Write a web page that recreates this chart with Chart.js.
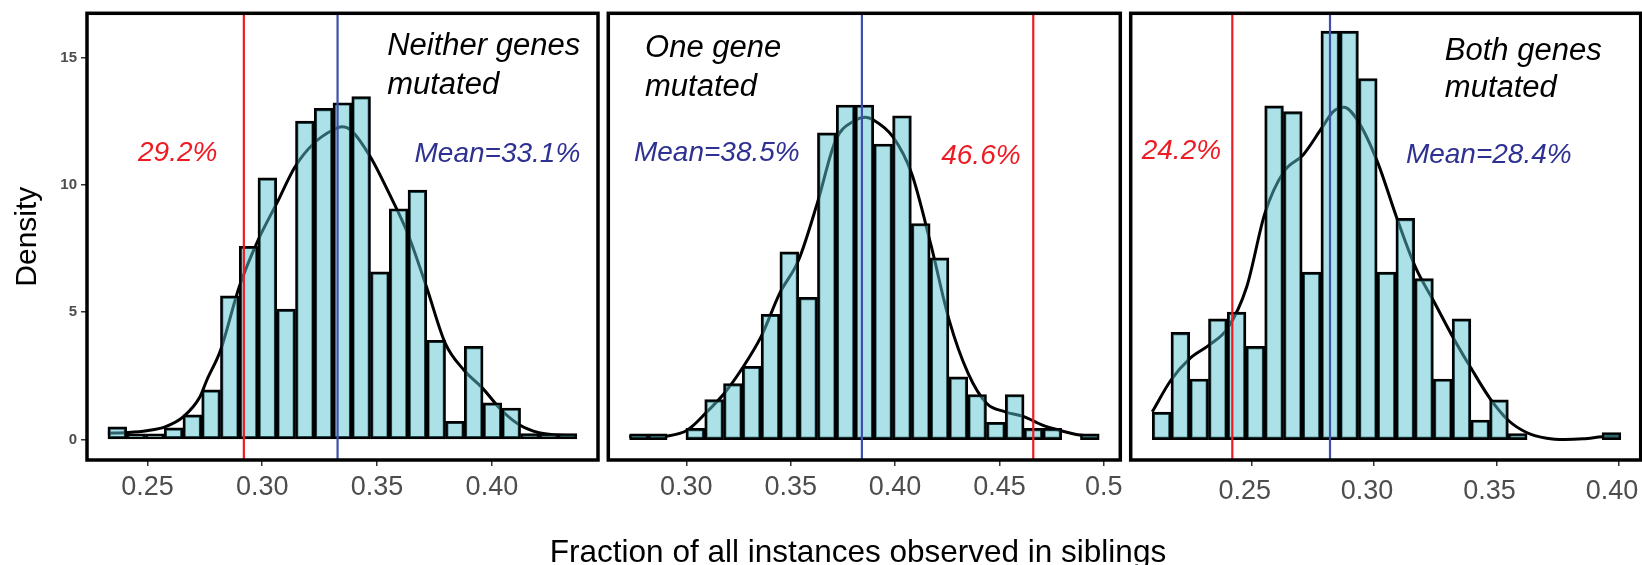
<!DOCTYPE html>
<html>
<head>
<meta charset="utf-8">
<script src="https://cdn.jsdelivr.net/npm/chart.js@4.4.0/dist/chart.umd.min.js"></script>
<style>
  html, body { margin: 0; padding: 0; background: #fff; }
  body { width: 1642px; height: 565px; position: relative; overflow: hidden; font-family: "Liberation Sans", Arial, sans-serif; }
  canvas { position: absolute; top: 0; }
  #xTitle { position: absolute; left: 458px; width: 800px; top: 536px; text-align: center; font-size: 31.5px; line-height: 31.5px; color: #000; }
</style>
</head>
<body>
<canvas id="panel0" width="602" height="565" style="left:0px"></canvas>
<canvas id="panel1" width="520" height="565" style="left:604px"></canvas>
<canvas id="panel2" width="516" height="565" style="left:1126px"></canvas>
<div id="xTitle">Fraction of all instances observed in siblings</div>
<script>
// Histogram bins: left edge of the first bin and bin width, per panel
const binStart = [0.2328, 0.2728, 0.2094];
const binWidth = [0.008168, 0.009, 0.007655];

// Bar heights (density)
const neitherHeights = [0.5, 0.23, 0.23, 0.46, 0.97, 1.95, 5.64, 7.59, 10.27, 5.12, 12.5, 13.0, 13.22, 13.46, 6.58, 9.06, 9.79, 3.9, 0.72, 3.66, 1.44, 1.24, 0.24, 0.24, 0.24];
const oneHeights = [0.23, 0.23, 0, 0.44, 1.57, 2.2, 2.88, 4.92, 7.37, 5.58, 12.04, 13.13, 13.13, 11.6, 12.71, 8.48, 7.13, 2.46, 1.77, 0.68, 1.77, 0.44, 0.44, 0, 0.23];
const bothHeights = [1.08, 4.21, 2.38, 4.74, 5.0, 3.66, 13.1, 12.87, 6.57, 16.03, 16.03, 14.17, 6.57, 8.68, 6.32, 2.38, 4.74, 0.77, 1.56, 0.24, 0, 0, 0, 0, 0.28];

// Density curves
const neitherDensX = [0.2328, 0.2413, 0.2497, 0.2577, 0.2657, 0.2729, 0.2759, 0.2818, 0.2900, 0.2982, 0.3063, 0.3143, 0.3225, 0.3307, 0.3347, 0.3388, 0.3470, 0.3552, 0.3633, 0.3715, 0.3797, 0.3878, 0.3960, 0.4041, 0.4121, 0.4205, 0.4286, 0.4370];
const neitherDensY = [0.25, 0.28, 0.35, 0.5, 0.9, 1.68, 2.34, 3.5, 6.0, 7.83, 9.27, 10.71, 11.63, 12.15, 12.28, 12.13, 11.11, 9.67, 8.1, 6.0, 3.78, 2.73, 2.01, 1.16, 0.57, 0.27, 0.18, 0.14];
const oneDensX = [0.2726, 0.2816, 0.2906, 0.3004, 0.3094, 0.3185, 0.3267, 0.3358, 0.3447, 0.3538, 0.3627, 0.3716, 0.3807, 0.3858, 0.3897, 0.3989, 0.4079, 0.4170, 0.4259, 0.4350, 0.4439, 0.4528, 0.4617, 0.4706, 0.4795, 0.4885, 0.4975];
const oneDensY = [0.12, 0.1, 0.14, 0.37, 1.05, 1.85, 2.79, 4.04, 5.74, 7.05, 9.27, 11.76, 12.52, 12.65, 12.54, 11.89, 10.45, 7.7, 4.69, 2.6, 1.42, 1.09, 0.9, 0.57, 0.35, 0.18, 0.11];
const bothDensX = [0.2094, 0.2170, 0.2248, 0.2326, 0.2402, 0.2480, 0.2554, 0.2632, 0.2710, 0.2786, 0.2833, 0.2877, 0.2938, 0.3015, 0.3091, 0.3168, 0.3245, 0.3321, 0.3397, 0.3473, 0.3550, 0.3625, 0.3705, 0.3779, 0.3854, 0.3932, 0.4008];
const bothDensY = [1.09, 2.33, 3.19, 3.71, 4.37, 6.0, 8.88, 10.52, 11.17, 12.22, 12.87, 13.04, 12.44, 10.87, 8.75, 6.79, 5.41, 4.04, 2.79, 1.62, 0.74, 0.27, 0.05, 0, 0.03, 0.11, 0.16];

// Reference lines and their labels
const cutoffValues = [0.292, 0.4662, 0.2421];
const cutoffLabels = ['29.2%', '46.6%', '24.2%'];
const meanValues = [0.3328, 0.3841, 0.2820];
const meanLabels = ['Mean=33.1%', 'Mean=38.5%', 'Mean=28.4%'];
const panelTitles = [['Neither genes', 'mutated'], ['One gene', 'mutated'], ['Both genes', 'mutated']];

// Axis ticks
const xTickValues = [[0.25, 0.30, 0.35, 0.40], [0.30, 0.35, 0.40, 0.45, 0.50], [0.25, 0.30, 0.35, 0.40]];
const xTickLabels = [['0.25', '0.30', '0.35', '0.40'], ['0.30', '0.35', '0.40', '0.45', '0.5'], ['0.25', '0.30', '0.35', '0.40']];
const yTickValues = [0, 5, 10, 15];
const yTickLabels = ['0', '5', '10', '15'];

const heights = [neitherHeights, oneHeights, bothHeights];
const densX = [neitherDensX, oneDensX, bothDensX];
const densY = [neitherDensY, oneDensY, bothDensY];

// Layout of each facet (axis ranges, paddings, label spots in data units)
const facets = [
    { xMin: 0.2237, xMax: 0.4462, pad: { left: 0, right: 4 }, tickPad: 5, labelShift: 0, title: [0.3544, 15.10, 13.56], cutoff: [0.2459, 10.95], mean: [0.3663, 10.88] },
    { xMin: 0.2626, xMax: 0.5079, pad: { left: 4.3, right: 3.7 }, tickPad: 5, labelShift: 0, title: [0.2802, 15.01, 13.50], cutoff: [0.4221, 10.80], mean: [0.2749, 10.95] },
    { xMin: 0.2006, xMax: 0.4089, pad: { left: 4.7, right: 1.3 }, tickPad: 9, labelShift: -7, title: [0.3289, 14.90, 13.44], cutoff: [0.2051, 11.00], mean: [0.3130, 10.84] }
];

const RED = '#ed1c24';
const BLUE_LINE = '#3e4fae';
const BLUE_TEXT = '#2e3192';
const FONT = '"Liberation Sans", Arial, sans-serif';

// Draws the reference lines, labels and the panel frame
const facetDecor = {
    id: 'facetDecor',
    afterDatasetsDraw(chart, args, opts) {
        const { ctx, chartArea: a, scales: { x, y } } = chart;
        const i = opts.index;
        const f = facets[i];
        ctx.save();
        ctx.lineWidth = 2.2;
        ctx.strokeStyle = RED;
        let px = x.getPixelForValue(cutoffValues[i]);
        ctx.beginPath(); ctx.moveTo(px, a.top); ctx.lineTo(px, a.bottom); ctx.stroke();
        ctx.strokeStyle = BLUE_LINE;
        px = x.getPixelForValue(meanValues[i]);
        ctx.beginPath(); ctx.moveTo(px, a.top); ctx.lineTo(px, a.bottom); ctx.stroke();

        ctx.textAlign = 'left';
        ctx.textBaseline = 'alphabetic';
        ctx.fillStyle = '#000';
        ctx.font = 'italic 31px ' + FONT;
        ctx.fillText(panelTitles[i][0], x.getPixelForValue(f.title[0]), y.getPixelForValue(f.title[1]));
        ctx.fillText(panelTitles[i][1], x.getPixelForValue(f.title[0]), y.getPixelForValue(f.title[2]));
        ctx.font = 'italic 28px ' + FONT;
        ctx.fillStyle = RED;
        ctx.fillText(cutoffLabels[i], x.getPixelForValue(f.cutoff[0]), y.getPixelForValue(f.cutoff[1]));
        ctx.fillStyle = BLUE_TEXT;
        ctx.fillText(meanLabels[i], x.getPixelForValue(f.mean[0]), y.getPixelForValue(f.mean[1]));
        ctx.restore();
    },
    afterDraw(chart) {
        const { ctx, chartArea: a } = chart;
        ctx.save();
        ctx.lineWidth = 3.5;
        ctx.strokeStyle = '#000';
        ctx.strokeRect(a.left, a.top, a.right - a.left, a.bottom - a.top);
        ctx.restore();
    }
};

const makeFacet = (i) => {
    const f = facets[i];
    const bars = heights[i].map((h, j) => ({ x: binStart[i] + binWidth[i] * (j + 0.5), y: h }));
    const curve = densX[i].map((v, k) => ({ x: v, y: densY[i][k] }));
    const ctx = document.getElementById('panel' + i).getContext('2d');
    return new Chart(ctx, {
        type: 'bar',
        data: {
            datasets: [
                {
                    type: 'bar',
                    data: bars,
                    backgroundColor: 'rgba(92, 196, 210, 0.5)',
                    borderColor: '#000',
                    borderWidth: 2.5,
                    borderSkipped: false,
                    barPercentage: 1,
                    categoryPercentage: 1,
                    order: 1
                },
                {
                    type: 'line',
                    data: curve,
                    borderColor: '#000',
                    borderWidth: 3,
                    pointRadius: 0,
                    tension: 0.4,
                    cubicInterpolationMode: 'monotone',
                    fill: false,
                    order: 2
                }
            ]
        },
        options: {
            responsive: false,
            animation: false,
            layout: { autoPadding: false, padding: { top: 13.3, bottom: 0, left: f.pad.left, right: f.pad.right } },
            plugins: {
                legend: { display: false },
                tooltip: { enabled: false },
                facetDecor: { index: i }
            },
            scales: {
                x: {
                    type: 'linear',
                    min: f.xMin,
                    max: f.xMax,
                    offset: false,
                    border: { display: false },
                    grid: { offset: false, drawOnChartArea: false, drawTicks: true, tickLength: 6, color: '#333', lineWidth: 1.5 },
                    afterBuildTicks: (scale) => { scale.ticks = xTickValues[i].map(v => ({ value: v })); },
                    afterFit: (scale) => { scale.height = 105; scale.paddingLeft = 0; scale.paddingRight = 0; },
                    ticks: {
                        autoSkip: false,
                        maxRotation: 0,
                        minRotation: 0,
                        padding: f.tickPad,
                        labelOffset: f.labelShift,
                        color: '#4d4d4d',
                        font: { family: FONT, size: 27 },
                        callback: (val, idx) => xTickLabels[i][idx]
                    }
                },
                y: {
                    type: 'linear',
                    min: -0.8,
                    max: 16.73,
                    display: i === 0,
                    border: { display: false },
                    grid: { drawOnChartArea: false, drawTicks: true, tickLength: 6, color: '#333', lineWidth: 1.5 },
                    afterBuildTicks: (scale) => { scale.ticks = yTickValues.map(v => ({ value: v })); },
                    afterFit: (scale) => { scale.width = i === 0 ? 87 : 0; scale.paddingTop = 0; scale.paddingBottom = 0; },
                    ticks: {
                        padding: 4,
                        color: '#4d4d4d',
                        font: { family: FONT, size: 15, weight: 'bold' },
                        callback: (val, idx) => yTickLabels[idx]
                    },
                    title: {
                        display: true,
                        text: 'Density',
                        color: '#000',
                        padding: { top: 9.5, bottom: 0 },
                        font: { family: FONT, size: 30 }
                    }
                }
            }
        },
        plugins: [facetDecor]
    });
};

[0, 1, 2].forEach(makeFacet);
</script>
</body>
</html>
